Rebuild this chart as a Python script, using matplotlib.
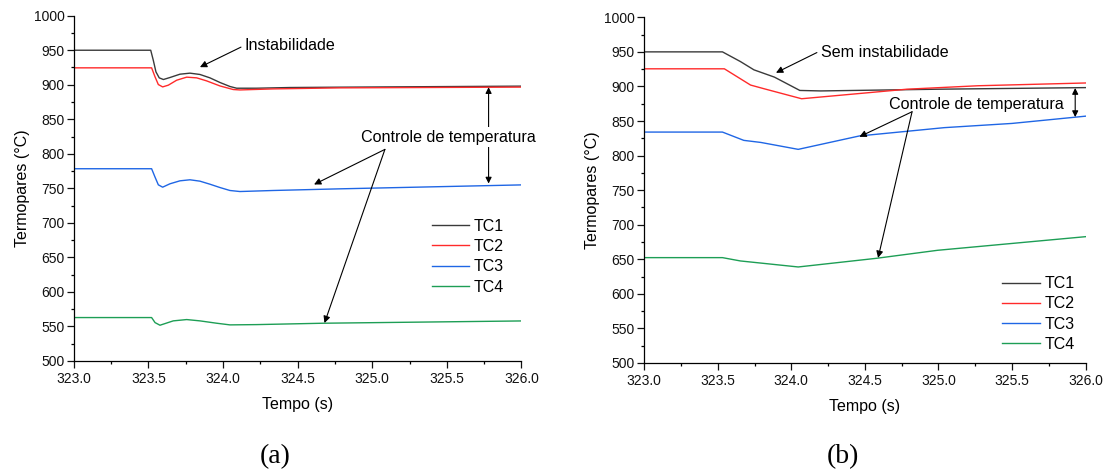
import matplotlib
matplotlib.use("Agg")
import matplotlib.pyplot as plt
from matplotlib.ticker import AutoMinorLocator, FormatStrFormatter

plt.rcParams["font.family"] = ["Liberation Sans", "DejaVu Sans"]

# ---------------- (a) with instability ----------------
a_tc1_t = [323.0, 323.515, 323.532, 323.55, 323.572, 323.60, 323.644, 323.711, 323.778,
           323.845, 323.912, 323.979, 324.046, 324.091, 324.225, 324.448, 324.783, 326.0]
a_tc1_v = [950.0, 950.0, 935.7, 918.7, 910.0, 907.6, 910.5, 915.3, 916.8,
           914.9, 910.0, 903.3, 897.5, 895.0, 895.0, 896.0, 896.5, 898.0]

a_tc2_t = [323.0, 323.521, 323.544, 323.566, 323.595, 323.633, 323.689, 323.756, 323.823,
           323.89, 323.979, 324.068, 324.113, 324.336, 324.783, 326.0]
a_tc2_v = [924.5, 924.5, 911.4, 900.3, 896.9, 899.4, 906.6, 911.0, 910.0,
           905.6, 898.3, 893.1, 892.5, 894.0, 895.5, 896.6]

a_tc3_t = [323.0, 323.521, 323.544, 323.566, 323.595, 323.644, 323.711, 323.778, 323.845,
           323.912, 323.979, 324.046, 324.113, 324.336, 324.783, 326.0]
a_tc3_v = [778.4, 778.4, 766.2, 755.1, 751.7, 756.6, 760.9, 762.4, 760.4,
           756.0, 751.2, 746.9, 745.4, 746.9, 749.3, 755.0]

a_tc4_t = [323.0, 323.521, 323.544, 323.577, 323.611, 323.666, 323.756, 323.845,
           323.957, 324.046, 324.225, 324.672, 326.0]
a_tc4_v = [562.9, 562.9, 555.6, 551.8, 554.2, 558.1, 560.0, 558.1,
           554.7, 552.3, 552.7, 554.7, 558.0]

# ---------------- (b) without instability ----------------
b_tc1_t = [323.0, 323.532, 323.654, 323.746, 323.885, 324.058, 324.2, 325.0, 326.0]
b_tc1_v = [950.0, 950.0, 936.0, 924.0, 913.5, 894.2, 893.5, 896.0, 898.3]

b_tc2_t = [323.0, 323.545, 323.723, 323.816, 324.07, 324.786, 325.27, 326.0]
b_tc2_v = [925.5, 925.5, 902.0, 896.6, 882.2, 896.0, 901.0, 905.0]

b_tc3_t = [323.0, 323.532, 323.677, 323.793, 324.047, 324.463, 325.04, 325.5, 326.0]
b_tc3_v = [834.0, 834.0, 822.0, 819.0, 809.0, 828.4, 840.4, 846.5, 857.0]

b_tc4_t = [323.0, 323.532, 323.654, 324.047, 324.578, 324.994, 326.0]
b_tc4_v = [652.4, 652.4, 647.6, 638.9, 651.4, 663.0, 682.7]

series_labels = ["TC1", "TC2", "TC3", "TC4"]
series_colors = ["#3a3a3a", "#ff2a2a", "#1f66e5", "#1d9e55"]

x_ticks = [323.0, 323.5, 324.0, 324.5, 325.0, 325.5, 326.0]
y_ticks = [500, 550, 600, 650, 700, 750, 800, 850, 900, 950, 1000]

W, H = 1104, 472
fig = plt.figure(figsize=(W / 100, H / 100), dpi=100)

ax1 = fig.add_axes([73.9 / W, (H - 361) / H, 447.5 / W, 345.3 / H])
ax2 = fig.add_axes([644.2 / W, (H - 363) / H, 441.3 / W, 345.7 / H])

panels = [
    (ax1, [(a_tc1_t, a_tc1_v), (a_tc2_t, a_tc2_v), (a_tc3_t, a_tc3_v), (a_tc4_t, a_tc4_v)]),
    (ax2, [(b_tc1_t, b_tc1_v), (b_tc2_t, b_tc2_v), (b_tc3_t, b_tc3_v), (b_tc4_t, b_tc4_v)]),
]

for ax, data in panels:
    for (t, v), lab, col in zip(data, series_labels, series_colors):
        ax.plot(t, v, color=col, lw=1.0, label=lab)
    ax.set_xlim(x_ticks[0], x_ticks[-1])
    ax.set_ylim(y_ticks[0], y_ticks[-1])
    ax.set_xticks(x_ticks)
    ax.set_yticks(y_ticks)
    ax.xaxis.set_major_formatter(FormatStrFormatter("%.1f"))
    ax.xaxis.set_minor_locator(AutoMinorLocator(2))
    ax.yaxis.set_minor_locator(AutoMinorLocator(2))
    for s in ("top", "right"):
        ax.spines[s].set_visible(False)
    for s in ("left", "bottom"):
        ax.spines[s].set_linewidth(0.9)
    ax.tick_params(which="major", direction="out", length=4.7, width=0.9,
                   labelsize=10, pad=2, colors="#111111")
    ax.tick_params(axis="x", which="major", pad=3)
    ax.tick_params(which="minor", direction="out", length=2.4, width=0.9)
    ax.set_xlabel("Tempo (s)", fontsize=11.5, labelpad=8.5)
    ax.set_ylabel("Termopares (°C)", fontsize=11.5, labelpad=3)

arrow = dict(arrowstyle="-|>", color="black", lw=0.8, mutation_scale=10,
             shrinkA=0, shrinkB=0)
darrow = dict(arrowstyle="<|-|>", color="black", lw=0.8, mutation_scale=9,
              shrinkA=0, shrinkB=0)
fs_note = 11.6

# annotations (a)
ax1.text(324.147, 957.5, "Instabilidade", fontsize=fs_note, va="center", ha="left")
ax1.annotate("", xy=(323.845, 925.5), xytext=(324.12, 954.5), arrowprops=arrow)
ax1.annotate("", xy=(325.78, 896.5), xytext=(325.78, 757.0), arrowprops=darrow, zorder=3)
ax1.text(324.924, 823.8, "Controle de temperatura", fontsize=fs_note, va="center",
         ha="left", zorder=5,
         bbox=dict(boxstyle="square,pad=0.15", fc="white", ec="none"))
ax1.annotate("", xy=(324.61, 755.6), xytext=(325.085, 806.4), arrowprops=arrow)
ax1.annotate("", xy=(324.68, 555.0), xytext=(325.085, 806.4), arrowprops=arrow)

# annotations (b)
ax2.text(324.204, 949.8, "Sem instabilidade", fontsize=fs_note, va="center", ha="left")
ax2.annotate("", xy=(323.896, 919.8), xytext=(324.174, 949.0), arrowprops=arrow)
ax2.text(324.663, 874.5, "Controle de temperatura", fontsize=fs_note, va="center",
         ha="left", zorder=5)
ax2.annotate("", xy=(324.463, 827.2), xytext=(324.821, 863.4), arrowprops=arrow)
ax2.annotate("", xy=(324.59, 652.0), xytext=(324.821, 863.4), arrowprops=arrow)
ax2.annotate("", xy=(325.93, 897.7), xytext=(325.93, 855.7), arrowprops=darrow)

# legends
leg_kw = dict(frameon=False, fontsize=11.5, handlelength=2.35, handletextpad=0.3,
              labelspacing=0.33, borderpad=0, borderaxespad=0, loc="upper left",
              bbox_transform=fig.transFigure)
ax1.legend(bbox_to_anchor=(431.7 / W, 1 - 218.8 / H), **leg_kw)
ax2.legend(bbox_to_anchor=(1002.0 / W, 1 - 276.2 / H), **leg_kw)

fig.text(275 / W, 1 - 457 / H, "(a)", fontsize=20, ha="center", va="center",
         family=["Liberation Serif", "DejaVu Serif"])
fig.text(843 / W, 1 - 457 / H, "(b)", fontsize=20, ha="center", va="center",
         family=["Liberation Serif", "DejaVu Serif"])

fig.savefig("out.png", dpi=100, facecolor="white")
